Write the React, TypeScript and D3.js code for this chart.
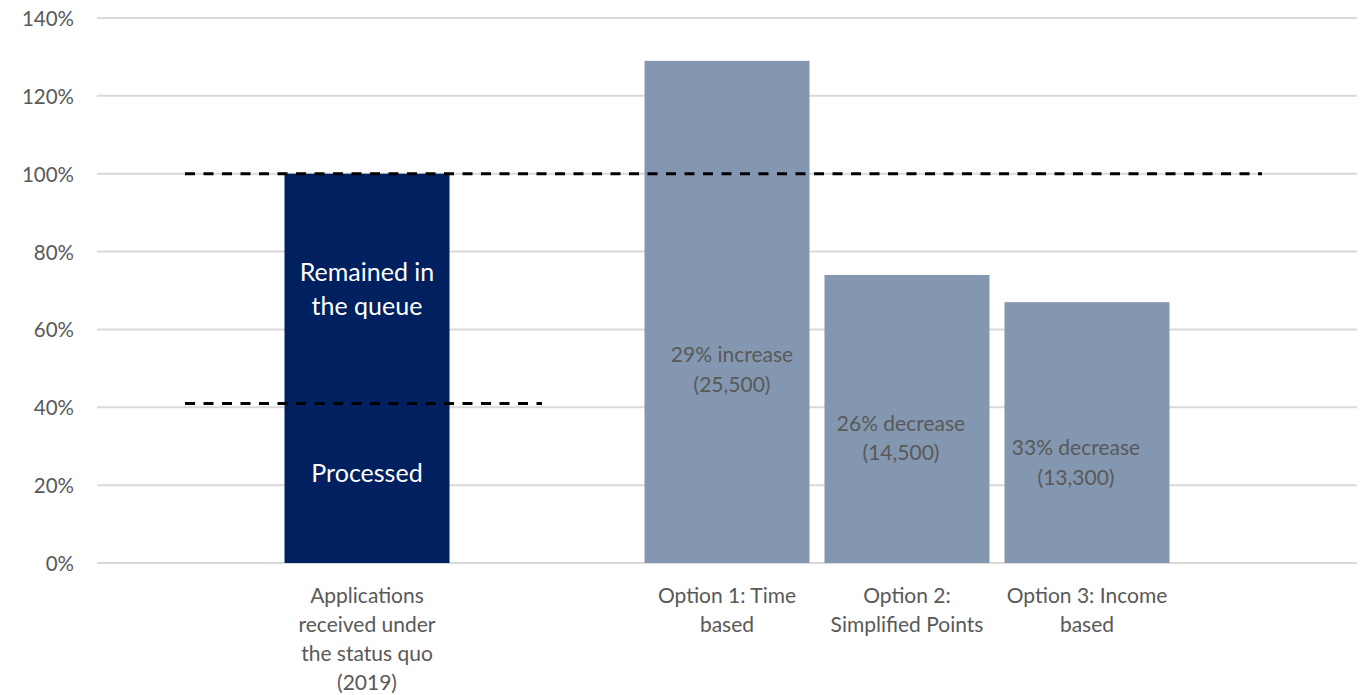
import React from "react";
import * as d3 from "d3";

const slots = [0, 1, 2, 3, 4, 5, 6];
const barSlots = [1, 3, 4, 5];
const barValues = [100, 129, 74, 67];
const barColors = ["#002060", "#8497B0", "#8497B0", "#8497B0"];
const categoryLabels = [
  ["Applications", "received under", "the status quo", "(2019)"],
  ["Option 1: Time", "based"],
  ["Option 2:", "Simplified Points"],
  ["Option 3: Income", "based"],
];
const yTicks = [0, 20, 40, 60, 80, 100, 120, 140];
const dashedLines = [
  { value: 100, from: 0, to: 6 },
  { value: 41, from: 0, to: 2 },
];
// annotations: slot, x offset (px), y value (%), lines
const barAnnotations = [
  { slot: 1, dx: 0, value: 70.7, lines: ["Remained in", "the queue"], color: "#FFFFFF", size: 25, lh: 34 },
  { slot: 1, dx: 0, value: 23.4, lines: ["Processed"], color: "#FFFFFF", size: 25, lh: 34 },
  { slot: 3, dx: 5, value: 50.0, lines: ["29% increase", "(25,500)"], color: "#595959", size: 21, lh: 29.5 },
  { slot: 4, dx: -6, value: 32.4, lines: ["26% decrease", "(14,500)"], color: "#595959", size: 21, lh: 29.5 },
  { slot: 5, dx: -11, value: 26.1, lines: ["33% decrease", "(13,300)"], color: "#595959", size: 21, lh: 29.5 },
];

const W = 1360;
const H = 695;
const FONT = "Lato, 'Open Sans', sans-serif";

export default function App() {
  const x = d3
    .scaleBand<number>()
    .domain(slots)
    .range([97, 1357])
    .paddingInner(0.0833)
    .paddingOuter(0.0417);
  const y = d3.scaleLinear().domain([0, 140]).range([563, 18]);
  const cx = (s: number) => (x(s) as number) + x.bandwidth() / 2;

  return (
    <div style={{ position: "fixed", left: 0, top: 0 }}>
      <svg width={W} height={H} style={{ display: "block", background: "#fff" }}>
        {yTicks.map((t) => (
          <g key={t}>
            <line x1={97} x2={1357} y1={y(t)} y2={y(t)} stroke="#D9D9D9" strokeWidth={2} />
            <text
              x={74}
              y={y(t)}
              textAnchor="end"
              dominantBaseline="central"
              fontFamily={FONT}
              fontSize={20.5}
              fill="#595959"
            >
              {t}%
            </text>
          </g>
        ))}
        {barSlots.map((s, i) => (
          <rect
            key={s}
            x={x(s)}
            y={y(barValues[i])}
            width={x.bandwidth()}
            height={y(0) - y(barValues[i])}
            fill={barColors[i]}
          />
        ))}
        {dashedLines.map((d, i) => (
          <line
            key={i}
            x1={cx(d.from) - 2}
            x2={cx(d.to) - 5}
            y1={y(d.value)}
            y2={y(d.value)}
            stroke="#000"
            strokeWidth={3}
            strokeDasharray="10 8.5"
          />
        ))}
        {barAnnotations.map((a, i) => {
          const y0 = y(a.value) - ((a.lines.length - 1) * a.lh) / 2;
          return (
            <text
              key={i}
              textAnchor="middle"
              fontFamily={FONT}
              fontSize={a.size}
              fill={a.color}
            >
              {a.lines.map((l, j) => (
                <tspan key={j} x={cx(a.slot) + a.dx} y={y0 + j * a.lh} dominantBaseline="central">
                  {l}
                </tspan>
              ))}
            </text>
          );
        })}
        {barSlots.map((s, i) => (
          <text key={s} textAnchor="middle" fontFamily={FONT} fontSize={21} fill="#595959">
            {categoryLabels[i].map((l, j) => (
              <tspan key={j} x={cx(s)} y={y(0) + 31 + j * 29.3} dominantBaseline="central">
                {l}
              </tspan>
            ))}
          </text>
        ))}
      </svg>
    </div>
  );
}
